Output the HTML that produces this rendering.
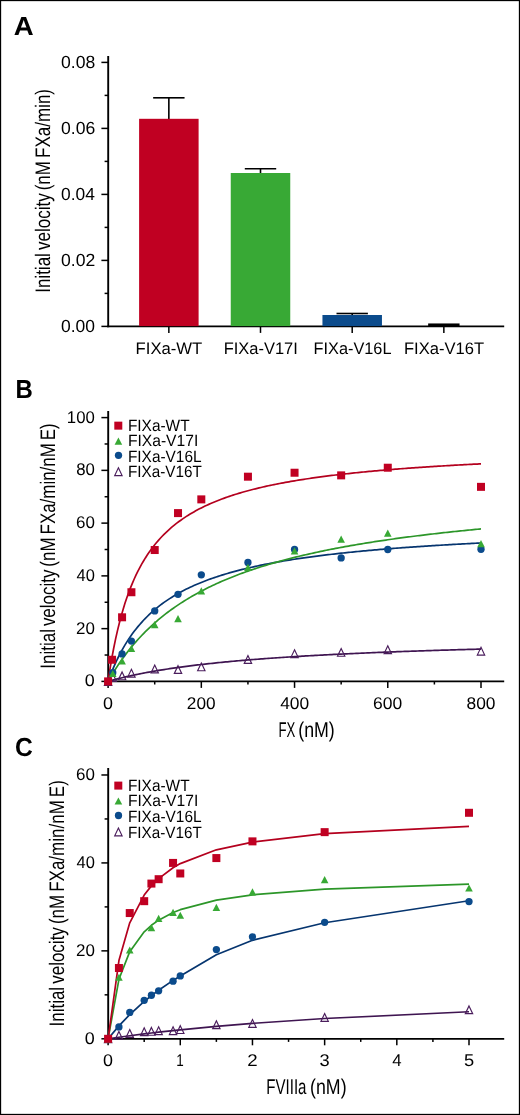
<!DOCTYPE html>
<html lang="en"><head><meta charset="utf-8"><title>Figure</title>
<style>
html,body{margin:0;padding:0;background:#fff;}
body{width:520px;height:1115px;overflow:hidden;}
svg{display:block;}
text{text-rendering:geometricPrecision;}
</style></head><body>
<svg width="520" height="1115" viewBox="0 0 520 1115">
<rect x="0" y="0" width="520" height="1115" fill="#fff"/>
<g font-family='"Liberation Sans", sans-serif' fill="#000">
<g id="panel-a">
<text x="13.77" y="35.2" font-size="26" textLength="19.91" lengthAdjust="spacingAndGlyphs" font-weight="bold">A</text>
<line x1="108.2" y1="55.9" x2="108.2" y2="327.3" stroke="#000" stroke-width="1.9"/>
<line x1="101.4" y1="326.4" x2="108.2" y2="326.4" stroke="#000" stroke-width="1.5"/>
<line x1="101.4" y1="260.4" x2="108.2" y2="260.4" stroke="#000" stroke-width="1.5"/>
<line x1="101.4" y1="194.4" x2="108.2" y2="194.4" stroke="#000" stroke-width="1.5"/>
<line x1="101.4" y1="128.4" x2="108.2" y2="128.4" stroke="#000" stroke-width="1.5"/>
<line x1="101.4" y1="62.4" x2="108.2" y2="62.4" stroke="#000" stroke-width="1.5"/>
<line x1="104.6" y1="293.4" x2="108.2" y2="293.4" stroke="#000" stroke-width="1.5"/>
<line x1="104.6" y1="227.4" x2="108.2" y2="227.4" stroke="#000" stroke-width="1.5"/>
<line x1="104.6" y1="161.4" x2="108.2" y2="161.4" stroke="#000" stroke-width="1.5"/>
<line x1="104.6" y1="95.4" x2="108.2" y2="95.4" stroke="#000" stroke-width="1.5"/>
<text x="61" y="331.5" font-size="17.6" textLength="34.04" lengthAdjust="spacingAndGlyphs">0.00</text>
<text x="61" y="265.5" font-size="17.6" textLength="34.22" lengthAdjust="spacingAndGlyphs">0.02</text>
<text x="61" y="199.5" font-size="17.6" textLength="33.86" lengthAdjust="spacingAndGlyphs">0.04</text>
<text x="61" y="133.5" font-size="17.6" textLength="34.22" lengthAdjust="spacingAndGlyphs">0.06</text>
<text x="61" y="67.5" font-size="17.6" textLength="34.22" lengthAdjust="spacingAndGlyphs">0.08</text>
<line x1="107.25" y1="326.4" x2="504.2" y2="326.4" stroke="#000" stroke-width="1.8"/>
<line x1="168.85" y1="326.4" x2="168.85" y2="332.9" stroke="#000" stroke-width="1.5"/>
<line x1="260.5" y1="326.4" x2="260.5" y2="332.9" stroke="#000" stroke-width="1.5"/>
<line x1="352.2" y1="326.4" x2="352.2" y2="332.9" stroke="#000" stroke-width="1.5"/>
<line x1="443.85" y1="326.4" x2="443.85" y2="332.9" stroke="#000" stroke-width="1.5"/>
<line x1="168.85" y1="97.8" x2="168.85" y2="119.8" stroke="#000" stroke-width="1.6"/>
<rect x="139.1" y="118.8" width="59.5" height="207.3" fill="#C00022"/>
<line x1="153.15" y1="97.8" x2="184.55" y2="97.8" stroke="#000" stroke-width="1.6"/>
<line x1="260.5" y1="168.8" x2="260.5" y2="174" stroke="#000" stroke-width="1.6"/>
<rect x="230.75" y="173" width="59.5" height="153.1" fill="#38A935"/>
<line x1="244.8" y1="168.8" x2="276.2" y2="168.8" stroke="#000" stroke-width="1.6"/>
<line x1="352.2" y1="313.5" x2="352.2" y2="316" stroke="#000" stroke-width="1.6"/>
<rect x="322.45" y="315" width="59.5" height="11.1" fill="#0B4B8C"/>
<line x1="336.5" y1="313.5" x2="367.9" y2="313.5" stroke="#000" stroke-width="1.6"/>
<rect x="428.15" y="323.45" width="31.4" height="2.95" fill="#000"/>
<text x="135.56" y="354.4" font-size="16.6" textLength="66.76" lengthAdjust="spacingAndGlyphs">FIXa-WT</text>
<text x="223.68" y="354.4" font-size="16.6" textLength="74.13" lengthAdjust="spacingAndGlyphs">FIXa-V17I</text>
<text x="313.6" y="354.4" font-size="16.6" textLength="77.9" lengthAdjust="spacingAndGlyphs">FIXa-V16L</text>
<text x="403.98" y="354.4" font-size="16.6" textLength="80.04" lengthAdjust="spacingAndGlyphs">FIXa-V16T</text>
<text x="49.9" y="292.83" font-size="21" word-spacing="-0.1em" textLength="203.87" lengthAdjust="spacingAndGlyphs" transform="rotate(-90 49.9 292.83)">Initial velocity (nM FXa/min)</text>
</g>
<g id="panel-b">
<text x="15.62" y="398" font-size="26" textLength="17.29" lengthAdjust="spacingAndGlyphs" font-weight="bold">B</text>
<line x1="108.2" y1="410.9" x2="108.2" y2="682.3" stroke="#000" stroke-width="1.9"/>
<line x1="101.4" y1="681.4" x2="108.2" y2="681.4" stroke="#000" stroke-width="1.5"/>
<line x1="101.4" y1="628.64" x2="108.2" y2="628.64" stroke="#000" stroke-width="1.5"/>
<line x1="101.4" y1="575.88" x2="108.2" y2="575.88" stroke="#000" stroke-width="1.5"/>
<line x1="101.4" y1="523.12" x2="108.2" y2="523.12" stroke="#000" stroke-width="1.5"/>
<line x1="101.4" y1="470.36" x2="108.2" y2="470.36" stroke="#000" stroke-width="1.5"/>
<line x1="101.4" y1="417.6" x2="108.2" y2="417.6" stroke="#000" stroke-width="1.5"/>
<line x1="104.6" y1="655.02" x2="108.2" y2="655.02" stroke="#000" stroke-width="1.5"/>
<line x1="104.6" y1="602.26" x2="108.2" y2="602.26" stroke="#000" stroke-width="1.5"/>
<line x1="104.6" y1="549.5" x2="108.2" y2="549.5" stroke="#000" stroke-width="1.5"/>
<line x1="104.6" y1="496.74" x2="108.2" y2="496.74" stroke="#000" stroke-width="1.5"/>
<line x1="104.6" y1="443.98" x2="108.2" y2="443.98" stroke="#000" stroke-width="1.5"/>
<text x="84.83" y="686.3" font-size="17.0" textLength="9.97" lengthAdjust="spacingAndGlyphs">0</text>
<text x="76" y="633.54" font-size="17.0" textLength="18.87" lengthAdjust="spacingAndGlyphs">20</text>
<text x="76.52" y="580.78" font-size="17.0" textLength="18.33" lengthAdjust="spacingAndGlyphs">40</text>
<text x="76" y="528.02" font-size="17.0" textLength="18.87" lengthAdjust="spacingAndGlyphs">60</text>
<text x="76.18" y="475.26" font-size="17.0" textLength="18.68" lengthAdjust="spacingAndGlyphs">80</text>
<text x="66.85" y="422.5" font-size="17.0" textLength="27.95" lengthAdjust="spacingAndGlyphs">100</text>
<line x1="107.25" y1="681.4" x2="504.2" y2="681.4" stroke="#000" stroke-width="1.8"/>
<line x1="108.1" y1="681.4" x2="108.1" y2="687.9" stroke="#000" stroke-width="1.5"/>
<line x1="201.32" y1="681.4" x2="201.32" y2="687.9" stroke="#000" stroke-width="1.5"/>
<line x1="294.55" y1="681.4" x2="294.55" y2="687.9" stroke="#000" stroke-width="1.5"/>
<line x1="387.77" y1="681.4" x2="387.77" y2="687.9" stroke="#000" stroke-width="1.5"/>
<line x1="481" y1="681.4" x2="481" y2="687.9" stroke="#000" stroke-width="1.5"/>
<line x1="154.71" y1="681.4" x2="154.71" y2="684.5" stroke="#000" stroke-width="1.5"/>
<line x1="247.94" y1="681.4" x2="247.94" y2="684.5" stroke="#000" stroke-width="1.5"/>
<line x1="341.16" y1="681.4" x2="341.16" y2="684.5" stroke="#000" stroke-width="1.5"/>
<line x1="434.39" y1="681.4" x2="434.39" y2="684.5" stroke="#000" stroke-width="1.5"/>
<path d="M108.1 681.4L109.96 680.88L111.83 680.36L113.69 679.86L115.56 679.37L117.42 678.89L119.29 678.42L121.15 677.96L123.02 677.51L124.88 677.07L126.74 676.64L128.61 676.22L130.47 675.8L132.34 675.39L134.2 675L136.07 674.61L137.93 674.22L139.8 673.85L141.66 673.48L143.53 673.12L145.39 672.76L147.25 672.41L149.12 672.07L150.98 671.74L152.85 671.41L154.71 671.08L156.58 670.76L158.44 670.45L160.31 670.14L162.17 669.84L164.03 669.55L165.9 669.25L167.76 668.97L169.63 668.69L171.49 668.41L173.36 668.13L175.22 667.87L177.09 667.6L178.95 667.34L180.82 667.09L182.68 666.83L184.54 666.59L186.41 666.34L188.27 666.1L190.14 665.86L192 665.63L193.87 665.4L195.73 665.18L197.6 664.95L199.46 664.73L201.32 664.52L203.19 664.3L205.05 664.09L206.92 663.89L208.78 663.68L210.65 663.48L212.51 663.28L214.38 663.09L216.24 662.89L218.11 662.7L219.97 662.51L221.83 662.33L223.7 662.15L225.56 661.96L227.43 661.79L229.29 661.61L231.16 661.44L233.02 661.27L234.89 661.1L236.75 660.93L238.61 660.76L240.48 660.6L242.34 660.44L244.21 660.28L246.07 660.13L247.94 659.97L249.8 659.82L251.67 659.67L253.53 659.52L255.4 659.37L257.26 659.23L259.12 659.08L260.99 658.94L262.85 658.8L264.72 658.66L266.58 658.52L268.45 658.39L270.31 658.25L272.18 658.12L274.04 657.99L275.9 657.86L277.77 657.73L279.63 657.6L281.5 657.48L283.36 657.35L285.23 657.23L287.09 657.11L288.96 656.99L290.82 656.87L292.69 656.75L294.55 656.64L296.41 656.52L298.28 656.41L300.14 656.3L302.01 656.19L303.87 656.08L305.74 655.97L307.6 655.86L309.47 655.75L311.33 655.65L313.19 655.54L315.06 655.44L316.92 655.33L318.79 655.23L320.65 655.13L322.52 655.03L324.38 654.93L326.25 654.84L328.11 654.74L329.98 654.64L331.84 654.55L333.7 654.46L335.57 654.36L337.43 654.27L339.3 654.18L341.16 654.09L343.03 654L344.89 653.91L346.76 653.82L348.62 653.74L350.49 653.65L352.35 653.56L354.21 653.48L356.08 653.4L357.94 653.31L359.81 653.23L361.67 653.15L363.54 653.07L365.4 652.99L367.27 652.91L369.13 652.83L370.99 652.75L372.86 652.67L374.72 652.6L376.59 652.52L378.45 652.44L380.32 652.37L382.18 652.3L384.05 652.22L385.91 652.15L387.77 652.08L389.64 652L391.5 651.93L393.37 651.86L395.23 651.79L397.1 651.72L398.96 651.66L400.83 651.59L402.69 651.52L404.56 651.45L406.42 651.39L408.28 651.32L410.15 651.25L412.01 651.19L413.88 651.12L415.74 651.06L417.61 651L419.47 650.93L421.34 650.87L423.2 650.81L425.06 650.75L426.93 650.69L428.79 650.63L430.66 650.57L432.52 650.51L434.39 650.45L436.25 650.39L438.12 650.33L439.98 650.27L441.85 650.22L443.71 650.16L445.57 650.1L447.44 650.05L449.3 649.99L451.17 649.93L453.03 649.88L454.9 649.83L456.76 649.77L458.63 649.72L460.49 649.66L462.35 649.61L464.22 649.56L466.08 649.51L467.95 649.45L469.81 649.4L471.68 649.35L473.54 649.3L475.41 649.25L477.27 649.2L479.14 649.15L481 649.1" fill="none" stroke="#3F1551" stroke-width="1.7" stroke-linejoin="round"/>
<path d="M108.1 681.4L109.96 676.35L111.83 671.62L113.69 667.16L115.56 662.96L117.42 659L119.29 655.25L121.15 651.71L123.02 648.34L124.88 645.15L126.74 642.11L128.61 639.22L130.47 636.47L132.34 633.84L134.2 631.33L136.07 628.93L137.93 626.63L139.8 624.43L141.66 622.32L143.53 620.29L145.39 618.35L147.25 616.48L149.12 614.68L150.98 612.95L152.85 611.28L154.71 609.67L156.58 608.12L158.44 606.62L160.31 605.17L162.17 603.78L164.03 602.42L165.9 601.11L167.76 599.85L169.63 598.62L171.49 597.43L173.36 596.28L175.22 595.16L177.09 594.08L178.95 593.02L180.82 592L182.68 591.01L184.54 590.04L186.41 589.1L188.27 588.19L190.14 587.3L192 586.43L193.87 585.59L195.73 584.77L197.6 583.97L199.46 583.19L201.32 582.42L203.19 581.68L205.05 580.96L206.92 580.25L208.78 579.56L210.65 578.88L212.51 578.22L214.38 577.58L216.24 576.95L218.11 576.34L219.97 575.73L221.83 575.15L223.7 574.57L225.56 574.01L227.43 573.45L229.29 572.91L231.16 572.39L233.02 571.87L234.89 571.36L236.75 570.86L238.61 570.37L240.48 569.9L242.34 569.43L244.21 568.97L246.07 568.52L247.94 568.08L249.8 567.64L251.67 567.22L253.53 566.8L255.4 566.39L257.26 565.98L259.12 565.59L260.99 565.2L262.85 564.82L264.72 564.44L266.58 564.07L268.45 563.71L270.31 563.35L272.18 563L274.04 562.66L275.9 562.32L277.77 561.99L279.63 561.66L281.5 561.34L283.36 561.02L285.23 560.71L287.09 560.4L288.96 560.1L290.82 559.8L292.69 559.51L294.55 559.22L296.41 558.93L298.28 558.65L300.14 558.38L302.01 558.11L303.87 557.84L305.74 557.58L307.6 557.32L309.47 557.06L311.33 556.81L313.19 556.56L315.06 556.31L316.92 556.07L318.79 555.83L320.65 555.6L322.52 555.36L324.38 555.14L326.25 554.91L328.11 554.69L329.98 554.47L331.84 554.25L333.7 554.04L335.57 553.83L337.43 553.62L339.3 553.41L341.16 553.21L343.03 553.01L344.89 552.81L346.76 552.61L348.62 552.42L350.49 552.23L352.35 552.04L354.21 551.86L356.08 551.67L357.94 551.49L359.81 551.31L361.67 551.13L363.54 550.96L365.4 550.79L367.27 550.62L369.13 550.45L370.99 550.28L372.86 550.12L374.72 549.95L376.59 549.79L378.45 549.63L380.32 549.47L382.18 549.32L384.05 549.16L385.91 549.01L387.77 548.86L389.64 548.71L391.5 548.56L393.37 548.42L395.23 548.27L397.1 548.13L398.96 547.99L400.83 547.85L402.69 547.71L404.56 547.58L406.42 547.44L408.28 547.31L410.15 547.18L412.01 547.04L413.88 546.91L415.74 546.79L417.61 546.66L419.47 546.53L421.34 546.41L423.2 546.29L425.06 546.16L426.93 546.04L428.79 545.92L430.66 545.8L432.52 545.69L434.39 545.57L436.25 545.46L438.12 545.34L439.98 545.23L441.85 545.12L443.71 545.01L445.57 544.9L447.44 544.79L449.3 544.68L451.17 544.57L453.03 544.47L454.9 544.36L456.76 544.26L458.63 544.16L460.49 544.06L462.35 543.95L464.22 543.86L466.08 543.76L467.95 543.66L469.81 543.56L471.68 543.46L473.54 543.37L475.41 543.27L477.27 543.18L479.14 543.09L481 542.99" fill="none" stroke="#06356F" stroke-width="1.7" stroke-linejoin="round"/>
<path d="M108.1 681.4L109.96 678.14L111.83 674.98L113.69 671.92L115.56 668.96L117.42 666.09L119.29 663.31L121.15 660.61L123.02 657.99L124.88 655.45L126.74 652.98L128.61 650.58L130.47 648.25L132.34 645.98L134.2 643.77L136.07 641.62L137.93 639.53L139.8 637.5L141.66 635.51L143.53 633.58L145.39 631.69L147.25 629.86L149.12 628.06L150.98 626.31L152.85 624.6L154.71 622.94L156.58 621.31L158.44 619.72L160.31 618.16L162.17 616.64L164.03 615.16L165.9 613.7L167.76 612.28L169.63 610.89L171.49 609.53L173.36 608.2L175.22 606.9L177.09 605.62L178.95 604.37L180.82 603.14L182.68 601.94L184.54 600.76L186.41 599.61L188.27 598.48L190.14 597.37L192 596.28L193.87 595.21L195.73 594.16L197.6 593.13L199.46 592.12L201.32 591.13L203.19 590.16L205.05 589.2L206.92 588.27L208.78 587.34L210.65 586.44L212.51 585.55L214.38 584.67L216.24 583.81L218.11 582.96L219.97 582.13L221.83 581.31L223.7 580.51L225.56 579.72L227.43 578.94L229.29 578.17L231.16 577.42L233.02 576.68L234.89 575.95L236.75 575.23L238.61 574.52L240.48 573.82L242.34 573.14L244.21 572.46L246.07 571.79L247.94 571.14L249.8 570.49L251.67 569.86L253.53 569.23L255.4 568.61L257.26 568L259.12 567.4L260.99 566.81L262.85 566.22L264.72 565.64L266.58 565.08L268.45 564.52L270.31 563.96L272.18 563.42L274.04 562.88L275.9 562.35L277.77 561.83L279.63 561.31L281.5 560.8L283.36 560.29L285.23 559.8L287.09 559.31L288.96 558.82L290.82 558.34L292.69 557.87L294.55 557.41L296.41 556.95L298.28 556.49L300.14 556.04L302.01 555.6L303.87 555.16L305.74 554.73L307.6 554.3L309.47 553.88L311.33 553.46L313.19 553.05L315.06 552.64L316.92 552.24L318.79 551.84L320.65 551.44L322.52 551.05L324.38 550.67L326.25 550.29L328.11 549.91L329.98 549.54L331.84 549.17L333.7 548.81L335.57 548.45L337.43 548.09L339.3 547.74L341.16 547.39L343.03 547.05L344.89 546.71L346.76 546.37L348.62 546.04L350.49 545.71L352.35 545.38L354.21 545.06L356.08 544.74L357.94 544.42L359.81 544.11L361.67 543.8L363.54 543.49L365.4 543.19L367.27 542.89L369.13 542.59L370.99 542.29L372.86 542L374.72 541.71L376.59 541.43L378.45 541.14L380.32 540.86L382.18 540.58L384.05 540.31L385.91 540.04L387.77 539.77L389.64 539.5L391.5 539.23L393.37 538.97L395.23 538.71L397.1 538.46L398.96 538.2L400.83 537.95L402.69 537.7L404.56 537.45L406.42 537.2L408.28 536.96L410.15 536.72L412.01 536.48L413.88 536.24L415.74 536.01L417.61 535.77L419.47 535.54L421.34 535.31L423.2 535.09L425.06 534.86L426.93 534.64L428.79 534.42L430.66 534.2L432.52 533.98L434.39 533.77L436.25 533.55L438.12 533.34L439.98 533.13L441.85 532.92L443.71 532.72L445.57 532.51L447.44 532.31L449.3 532.11L451.17 531.91L453.03 531.71L454.9 531.51L456.76 531.32L458.63 531.12L460.49 530.93L462.35 530.74L464.22 530.55L466.08 530.37L467.95 530.18L469.81 530L471.68 529.81L473.54 529.63L475.41 529.45L477.27 529.27L479.14 529.1L481 528.92" fill="none" stroke="#2C9629" stroke-width="1.7" stroke-linejoin="round"/>
<path d="M108.1 681.4L109.96 669.21L111.83 658.21L113.69 648.23L115.56 639.15L117.42 630.83L119.29 623.19L121.15 616.15L123.02 609.65L124.88 603.61L126.74 598L128.61 592.77L130.47 587.89L132.34 583.31L134.2 579.01L136.07 574.97L137.93 571.17L139.8 567.58L141.66 564.19L143.53 560.97L145.39 557.93L147.25 555.04L149.12 552.29L150.98 549.67L152.85 547.18L154.71 544.8L156.58 542.53L158.44 540.36L160.31 538.28L162.17 536.29L164.03 534.38L165.9 532.55L167.76 530.79L169.63 529.1L171.49 527.47L173.36 525.91L175.22 524.4L177.09 522.94L178.95 521.54L180.82 520.19L182.68 518.88L184.54 517.62L186.41 516.4L188.27 515.21L190.14 514.07L192 512.96L193.87 511.89L195.73 510.85L197.6 509.84L199.46 508.86L201.32 507.91L203.19 506.98L205.05 506.09L206.92 505.21L208.78 504.37L210.65 503.54L212.51 502.74L214.38 501.96L216.24 501.2L218.11 500.45L219.97 499.73L221.83 499.03L223.7 498.34L225.56 497.67L227.43 497.01L229.29 496.38L231.16 495.75L233.02 495.14L234.89 494.55L236.75 493.97L238.61 493.4L240.48 492.85L242.34 492.3L244.21 491.77L246.07 491.25L247.94 490.74L249.8 490.25L251.67 489.76L253.53 489.28L255.4 488.82L257.26 488.36L259.12 487.91L260.99 487.47L262.85 487.04L264.72 486.62L266.58 486.2L268.45 485.79L270.31 485.4L272.18 485L274.04 484.62L275.9 484.24L277.77 483.87L279.63 483.51L281.5 483.15L283.36 482.8L285.23 482.46L287.09 482.12L288.96 481.79L290.82 481.46L292.69 481.14L294.55 480.82L296.41 480.51L298.28 480.21L300.14 479.91L302.01 479.61L303.87 479.32L305.74 479.03L307.6 478.75L309.47 478.48L311.33 478.2L313.19 477.94L315.06 477.67L316.92 477.41L318.79 477.15L320.65 476.9L322.52 476.65L324.38 476.41L326.25 476.17L328.11 475.93L329.98 475.7L331.84 475.46L333.7 475.24L335.57 475.01L337.43 474.79L339.3 474.57L341.16 474.36L343.03 474.15L344.89 473.94L346.76 473.73L348.62 473.53L350.49 473.33L352.35 473.13L354.21 472.93L356.08 472.74L357.94 472.55L359.81 472.36L361.67 472.18L363.54 471.99L365.4 471.81L367.27 471.63L369.13 471.46L370.99 471.28L372.86 471.11L374.72 470.94L376.59 470.78L378.45 470.61L380.32 470.45L382.18 470.29L384.05 470.13L385.91 469.97L387.77 469.81L389.64 469.66L391.5 469.51L393.37 469.36L395.23 469.21L397.1 469.06L398.96 468.91L400.83 468.77L402.69 468.63L404.56 468.49L406.42 468.35L408.28 468.21L410.15 468.08L412.01 467.94L413.88 467.81L415.74 467.68L417.61 467.55L419.47 467.42L421.34 467.29L423.2 467.17L425.06 467.04L426.93 466.92L428.79 466.8L430.66 466.68L432.52 466.56L434.39 466.44L436.25 466.32L438.12 466.21L439.98 466.09L441.85 465.98L443.71 465.87L445.57 465.76L447.44 465.65L449.3 465.54L451.17 465.43L453.03 465.32L454.9 465.22L456.76 465.11L458.63 465.01L460.49 464.91L462.35 464.81L464.22 464.7L466.08 464.61L467.95 464.51L469.81 464.41L471.68 464.31L473.54 464.22L475.41 464.12L477.27 464.03L479.14 463.93L481 463.84" fill="none" stroke="#B4001E" stroke-width="1.7" stroke-linejoin="round"/>
<path d="M108.1 677.5L111.8 685.3L104.4 685.3Z" fill="none" stroke="#4A1D5C" stroke-width="1.15"/>
<path d="M112.76 673.54L116.46 681.34L109.06 681.34Z" fill="none" stroke="#4A1D5C" stroke-width="1.15"/>
<path d="M122.08 671.96L125.78 679.76L118.38 679.76Z" fill="none" stroke="#4A1D5C" stroke-width="1.15"/>
<path d="M131.41 669.32L135.11 677.12L127.71 677.12Z" fill="none" stroke="#4A1D5C" stroke-width="1.15"/>
<path d="M154.71 665.1L158.41 672.9L151.01 672.9Z" fill="none" stroke="#4A1D5C" stroke-width="1.15"/>
<path d="M178.02 665.63L181.72 673.43L174.32 673.43Z" fill="none" stroke="#4A1D5C" stroke-width="1.15"/>
<path d="M201.32 662.99L205.02 670.79L197.62 670.79Z" fill="none" stroke="#4A1D5C" stroke-width="1.15"/>
<path d="M247.94 655.6L251.64 663.4L244.24 663.4Z" fill="none" stroke="#4A1D5C" stroke-width="1.15"/>
<path d="M294.55 649.8L298.25 657.6L290.85 657.6Z" fill="none" stroke="#4A1D5C" stroke-width="1.15"/>
<path d="M341.16 648.48L344.86 656.28L337.46 656.28Z" fill="none" stroke="#4A1D5C" stroke-width="1.15"/>
<path d="M387.77 645.84L391.47 653.64L384.07 653.64Z" fill="none" stroke="#4A1D5C" stroke-width="1.15"/>
<path d="M481 647.29L484.7 655.09L477.3 655.09Z" fill="none" stroke="#4A1D5C" stroke-width="1.15"/>
<circle cx="108.1" cy="681.4" r="3.65" fill="#0B4B8C"/>
<circle cx="112.76" cy="672.69" r="3.65" fill="#0B4B8C"/>
<circle cx="122.08" cy="653.96" r="3.65" fill="#0B4B8C"/>
<circle cx="131.41" cy="641.04" r="3.65" fill="#0B4B8C"/>
<circle cx="154.71" cy="610.97" r="3.65" fill="#0B4B8C"/>
<circle cx="178.02" cy="594.35" r="3.65" fill="#0B4B8C"/>
<circle cx="201.32" cy="574.82" r="3.65" fill="#0B4B8C"/>
<circle cx="247.94" cy="562.43" r="3.65" fill="#0B4B8C"/>
<circle cx="294.55" cy="549.5" r="3.65" fill="#0B4B8C"/>
<circle cx="341.16" cy="557.94" r="3.65" fill="#0B4B8C"/>
<circle cx="387.77" cy="549.5" r="3.65" fill="#0B4B8C"/>
<circle cx="481" cy="549.24" r="3.65" fill="#0B4B8C"/>
<path d="M108.1 677.8L111.9 685L104.3 685Z" fill="#38A935"/>
<path d="M112.76 669.89L116.56 677.09L108.96 677.09Z" fill="#38A935"/>
<path d="M122.08 657.22L125.88 664.42L118.28 664.42Z" fill="#38A935"/>
<path d="M131.41 644.82L135.21 652.02L127.61 652.02Z" fill="#38A935"/>
<path d="M154.71 621.08L158.51 628.28L150.91 628.28Z" fill="#38A935"/>
<path d="M178.02 615.02L181.82 622.22L174.22 622.22Z" fill="#38A935"/>
<path d="M201.32 587.32L205.12 594.52L197.52 594.52Z" fill="#38A935"/>
<path d="M247.94 563.84L251.74 571.04L244.14 571.04Z" fill="#38A935"/>
<path d="M294.55 547.22L298.35 554.42L290.75 554.42Z" fill="#38A935"/>
<path d="M341.16 535.61L344.96 542.81L337.36 542.81Z" fill="#38A935"/>
<path d="M387.77 529.54L391.57 536.74L383.97 536.74Z" fill="#38A935"/>
<path d="M481 540.1L484.8 547.3L477.2 547.3Z" fill="#38A935"/>
<rect x="104.1" y="677.4" width="8.0" height="8.0" fill="#C00022"/>
<rect x="108.06" y="655.77" width="8.0" height="8.0" fill="#C00022"/>
<rect x="118.08" y="613.3" width="8.0" height="8.0" fill="#C00022"/>
<rect x="127.41" y="588.24" width="8.0" height="8.0" fill="#C00022"/>
<rect x="150.71" y="546.03" width="8.0" height="8.0" fill="#C00022"/>
<rect x="174.02" y="509.1" width="8.0" height="8.0" fill="#C00022"/>
<rect x="197.32" y="495.38" width="8.0" height="8.0" fill="#C00022"/>
<rect x="243.94" y="472.69" width="8.0" height="8.0" fill="#C00022"/>
<rect x="290.55" y="468.73" width="8.0" height="8.0" fill="#C00022"/>
<rect x="337.16" y="471.37" width="8.0" height="8.0" fill="#C00022"/>
<rect x="383.77" y="463.72" width="8.0" height="8.0" fill="#C00022"/>
<rect x="477" y="482.85" width="8.0" height="8.0" fill="#C00022"/>
<text x="103.08" y="708.9" font-size="17.0" textLength="9.97" lengthAdjust="spacingAndGlyphs">0</text>
<text x="186.86" y="708.9" font-size="17.0" textLength="28.73" lengthAdjust="spacingAndGlyphs">200</text>
<text x="280.2" y="708.9" font-size="17.0" textLength="29.02" lengthAdjust="spacingAndGlyphs">400</text>
<text x="373.1" y="708.9" font-size="17.0" textLength="29.15" lengthAdjust="spacingAndGlyphs">600</text>
<text x="466.51" y="708.9" font-size="17.0" textLength="28.96" lengthAdjust="spacingAndGlyphs">800</text>
<text y="737.2" font-size="21.3"><tspan x="278.55" textLength="16.82" lengthAdjust="spacingAndGlyphs">FX</tspan> <tspan x="298.23" textLength="36.53" lengthAdjust="spacingAndGlyphs">(nM)</tspan></text>
<text x="54.65" y="668.62" font-size="21" word-spacing="-0.1em" textLength="245.38" lengthAdjust="spacingAndGlyphs" transform="rotate(-90 54.65 668.62)">Initial velocity (nM FXa/min/nM E)</text>
<rect x="114.3" y="421.65" width="8.0" height="8.0" fill="#C00022"/>
<path d="M118.4 437.45L122.2 444.65L114.6 444.65Z" fill="#38A935"/>
<circle cx="118.5" cy="455.35" r="3.65" fill="#0B4B8C"/>
<path d="M118.4 467.8L122.1 475.6L114.7 475.6Z" fill="none" stroke="#4A1D5C" stroke-width="1.15"/>
<text x="127.92" y="431.1" font-size="16.3" textLength="61.69" lengthAdjust="spacingAndGlyphs">FIXa-WT</text>
<text x="127.9" y="445.75" font-size="16.3" textLength="70.39" lengthAdjust="spacingAndGlyphs">FIXa-V17I</text>
<text x="127.92" y="461.6" font-size="16.3" textLength="73.7" lengthAdjust="spacingAndGlyphs">FIXa-V16L</text>
<text x="127.93" y="476.65" font-size="16.3" textLength="73.9" lengthAdjust="spacingAndGlyphs">FIXa-V16T</text>
</g>
<g id="panel-c">
<text x="14.92" y="755.8" font-size="26" textLength="17.78" lengthAdjust="spacingAndGlyphs" font-weight="bold">C</text>
<line x1="108.2" y1="768.1" x2="108.2" y2="1039.7" stroke="#000" stroke-width="1.9"/>
<line x1="101.4" y1="1038.8" x2="108.2" y2="1038.8" stroke="#000" stroke-width="1.5"/>
<line x1="101.4" y1="950.86" x2="108.2" y2="950.86" stroke="#000" stroke-width="1.5"/>
<line x1="101.4" y1="862.92" x2="108.2" y2="862.92" stroke="#000" stroke-width="1.5"/>
<line x1="101.4" y1="774.98" x2="108.2" y2="774.98" stroke="#000" stroke-width="1.5"/>
<line x1="104.6" y1="994.83" x2="108.2" y2="994.83" stroke="#000" stroke-width="1.5"/>
<line x1="104.6" y1="906.89" x2="108.2" y2="906.89" stroke="#000" stroke-width="1.5"/>
<line x1="104.6" y1="818.95" x2="108.2" y2="818.95" stroke="#000" stroke-width="1.5"/>
<text x="84.83" y="1043.7" font-size="17.0" textLength="9.97" lengthAdjust="spacingAndGlyphs">0</text>
<text x="76" y="955.76" font-size="17.0" textLength="18.87" lengthAdjust="spacingAndGlyphs">20</text>
<text x="76.52" y="867.82" font-size="17.0" textLength="18.33" lengthAdjust="spacingAndGlyphs">40</text>
<text x="76" y="779.88" font-size="17.0" textLength="18.87" lengthAdjust="spacingAndGlyphs">60</text>
<line x1="107.25" y1="1038.8" x2="504.2" y2="1038.8" stroke="#000" stroke-width="1.8"/>
<line x1="108.1" y1="1038.8" x2="108.1" y2="1045.3" stroke="#000" stroke-width="1.5"/>
<line x1="180.28" y1="1038.8" x2="180.28" y2="1045.3" stroke="#000" stroke-width="1.5"/>
<line x1="252.46" y1="1038.8" x2="252.46" y2="1045.3" stroke="#000" stroke-width="1.5"/>
<line x1="324.64" y1="1038.8" x2="324.64" y2="1045.3" stroke="#000" stroke-width="1.5"/>
<line x1="396.82" y1="1038.8" x2="396.82" y2="1045.3" stroke="#000" stroke-width="1.5"/>
<line x1="469" y1="1038.8" x2="469" y2="1045.3" stroke="#000" stroke-width="1.5"/>
<line x1="144.19" y1="1038.8" x2="144.19" y2="1041.9" stroke="#000" stroke-width="1.5"/>
<line x1="216.37" y1="1038.8" x2="216.37" y2="1041.9" stroke="#000" stroke-width="1.5"/>
<line x1="288.55" y1="1038.8" x2="288.55" y2="1041.9" stroke="#000" stroke-width="1.5"/>
<line x1="360.73" y1="1038.8" x2="360.73" y2="1041.9" stroke="#000" stroke-width="1.5"/>
<line x1="432.91" y1="1038.8" x2="432.91" y2="1041.9" stroke="#000" stroke-width="1.5"/>
<path d="M108.1 1038.8L118.93 1037.22L129.75 1035.74L144.19 1033.88L151.41 1033.01L158.63 1032.16L173.06 1030.55L180.28 1029.79L216.37 1026.32L252.46 1023.35L324.64 1018.52L469 1011.76" fill="none" stroke="#3F1551" stroke-width="1.7" stroke-linejoin="round"/>
<path d="M108.1 1038.8L118.93 1025.9L129.75 1014.57L144.19 1001.47L151.41 995.63L158.63 990.2L173.06 980.41L180.28 975.99L216.37 954.82L252.46 940.31L324.64 922.72L469 900.73" fill="none" stroke="#06356F" stroke-width="1.7" stroke-linejoin="round"/>
<path d="M108.1 1038.8L118.93 979.28L129.75 951.65L144.19 931.77L151.41 925.3L158.63 920.17L173.06 912.58L180.28 909.68L216.37 900.14L252.46 894.83L324.64 889.09L469 884.15" fill="none" stroke="#2C9629" stroke-width="1.7" stroke-linejoin="round"/>
<path d="M108.1 1038.8L118.93 960.57L129.75 922.81L144.19 895.05L151.41 885.9L158.63 878.62L173.06 867.76L180.28 863.61L216.37 849.83L252.46 842.09L324.64 833.7L469 826.44" fill="none" stroke="#B4001E" stroke-width="1.7" stroke-linejoin="round"/>
<path d="M108.1 1034.9L111.8 1042.7L104.4 1042.7Z" fill="none" stroke="#4A1D5C" stroke-width="1.15"/>
<path d="M118.93 1031.38L122.63 1039.18L115.23 1039.18Z" fill="none" stroke="#4A1D5C" stroke-width="1.15"/>
<path d="M129.75 1029.62L133.45 1037.42L126.05 1037.42Z" fill="none" stroke="#4A1D5C" stroke-width="1.15"/>
<path d="M144.19 1027.86L147.89 1035.66L140.49 1035.66Z" fill="none" stroke="#4A1D5C" stroke-width="1.15"/>
<path d="M151.41 1027.43L155.11 1035.23L147.71 1035.23Z" fill="none" stroke="#4A1D5C" stroke-width="1.15"/>
<path d="M158.63 1026.77L162.33 1034.57L154.93 1034.57Z" fill="none" stroke="#4A1D5C" stroke-width="1.15"/>
<path d="M173.06 1026.77L176.76 1034.57L169.36 1034.57Z" fill="none" stroke="#4A1D5C" stroke-width="1.15"/>
<path d="M180.28 1025.67L183.98 1033.47L176.58 1033.47Z" fill="none" stroke="#4A1D5C" stroke-width="1.15"/>
<path d="M216.37 1020.83L220.07 1028.63L212.67 1028.63Z" fill="none" stroke="#4A1D5C" stroke-width="1.15"/>
<path d="M252.46 1019.51L256.16 1027.31L248.76 1027.31Z" fill="none" stroke="#4A1D5C" stroke-width="1.15"/>
<path d="M324.64 1013.57L328.34 1021.37L320.94 1021.37Z" fill="none" stroke="#4A1D5C" stroke-width="1.15"/>
<path d="M469 1005.88L472.7 1013.68L465.3 1013.68Z" fill="none" stroke="#4A1D5C" stroke-width="1.15"/>
<circle cx="108.1" cy="1038.8" r="3.65" fill="#0B4B8C"/>
<circle cx="118.93" cy="1026.93" r="3.65" fill="#0B4B8C"/>
<circle cx="129.75" cy="1012.42" r="3.65" fill="#0B4B8C"/>
<circle cx="144.19" cy="1000.33" r="3.65" fill="#0B4B8C"/>
<circle cx="151.41" cy="995.27" r="3.65" fill="#0B4B8C"/>
<circle cx="158.63" cy="990.87" r="3.65" fill="#0B4B8C"/>
<circle cx="173.06" cy="981.2" r="3.65" fill="#0B4B8C"/>
<circle cx="180.28" cy="975.92" r="3.65" fill="#0B4B8C"/>
<circle cx="216.37" cy="949.54" r="3.65" fill="#0B4B8C"/>
<circle cx="252.46" cy="936.79" r="3.65" fill="#0B4B8C"/>
<circle cx="324.64" cy="922.28" r="3.65" fill="#0B4B8C"/>
<circle cx="469" cy="901.61" r="3.65" fill="#0B4B8C"/>
<path d="M108.1 1035.2L111.9 1042.4L104.3 1042.4Z" fill="#38A935"/>
<path d="M118.93 973.64L122.73 980.84L115.13 980.84Z" fill="#38A935"/>
<path d="M129.75 946.38L133.55 953.58L125.95 953.58Z" fill="#38A935"/>
<path d="M151.41 923.96L155.21 931.16L147.61 931.16Z" fill="#38A935"/>
<path d="M158.63 914.72L162.43 921.92L154.83 921.92Z" fill="#38A935"/>
<path d="M173.06 908.79L176.86 915.99L169.26 915.99Z" fill="#38A935"/>
<path d="M180.28 911.64L184.08 918.84L176.48 918.84Z" fill="#38A935"/>
<path d="M216.37 903.73L220.17 910.93L212.57 910.93Z" fill="#38A935"/>
<path d="M252.46 888.34L256.26 895.54L248.66 895.54Z" fill="#38A935"/>
<path d="M324.64 876.03L328.44 883.23L320.84 883.23Z" fill="#38A935"/>
<path d="M469 884.38L472.8 891.58L465.2 891.58Z" fill="#38A935"/>
<rect x="104.1" y="1034.8" width="8.0" height="8.0" fill="#C00022"/>
<rect x="114.93" y="964.01" width="8.0" height="8.0" fill="#C00022"/>
<rect x="125.75" y="909.05" width="8.0" height="8.0" fill="#C00022"/>
<rect x="140.19" y="897.17" width="8.0" height="8.0" fill="#C00022"/>
<rect x="147.41" y="879.59" width="8.0" height="8.0" fill="#C00022"/>
<rect x="154.63" y="875.19" width="8.0" height="8.0" fill="#C00022"/>
<rect x="169.06" y="858.92" width="8.0" height="8.0" fill="#C00022"/>
<rect x="176.28" y="869.47" width="8.0" height="8.0" fill="#C00022"/>
<rect x="212.37" y="854.08" width="8.0" height="8.0" fill="#C00022"/>
<rect x="248.46" y="837.37" width="8.0" height="8.0" fill="#C00022"/>
<rect x="320.64" y="828.14" width="8.0" height="8.0" fill="#C00022"/>
<rect x="465" y="808.79" width="8.0" height="8.0" fill="#C00022"/>
<text x="103.08" y="1066" font-size="17.0" textLength="9.97" lengthAdjust="spacingAndGlyphs">0</text>
<text x="176.3" y="1066" font-size="17.0" textLength="7.5" lengthAdjust="spacingAndGlyphs">1</text>
<text x="247.23" y="1066" font-size="17.0" textLength="10.4" lengthAdjust="spacingAndGlyphs">2</text>
<text x="319.61" y="1066" font-size="17.0" textLength="10.18" lengthAdjust="spacingAndGlyphs">3</text>
<text x="392.18" y="1066" font-size="17.0" textLength="9.38" lengthAdjust="spacingAndGlyphs">4</text>
<text x="463.97" y="1066" font-size="17.0" textLength="10.18" lengthAdjust="spacingAndGlyphs">5</text>
<text y="1094.3" font-size="21.3"><tspan x="266.3" textLength="40.17" lengthAdjust="spacingAndGlyphs">FVIIIa</tspan> <tspan x="310.09" textLength="36.47" lengthAdjust="spacingAndGlyphs">(nM)</tspan></text>
<text x="63.7" y="1026.53" font-size="21" word-spacing="-0.1em" textLength="246.4" lengthAdjust="spacingAndGlyphs" transform="rotate(-90 63.7 1026.53)">Initial velocity (nM FXa/min/nM E)</text>
<rect x="114.3" y="781.6" width="8.0" height="8.0" fill="#C00022"/>
<path d="M118.4 797.4L122.2 804.6L114.6 804.6Z" fill="#38A935"/>
<circle cx="118.5" cy="815.5" r="3.65" fill="#0B4B8C"/>
<path d="M118.4 828L122.1 835.8L114.7 835.8Z" fill="none" stroke="#4A1D5C" stroke-width="1.15"/>
<text x="127.92" y="791" font-size="16.3" textLength="61.69" lengthAdjust="spacingAndGlyphs">FIXa-WT</text>
<text x="127.9" y="806.3" font-size="16.3" textLength="70.39" lengthAdjust="spacingAndGlyphs">FIXa-V17I</text>
<text x="127.92" y="821.85" font-size="16.3" textLength="73.7" lengthAdjust="spacingAndGlyphs">FIXa-V16L</text>
<text x="127.93" y="837.7" font-size="16.3" textLength="73.9" lengthAdjust="spacingAndGlyphs">FIXa-V16T</text>
</g>
</g>
<rect x="0" y="0" width="520" height="1115" fill="none" stroke="#000" stroke-width="2.3"/>
</svg>
</body></html>
